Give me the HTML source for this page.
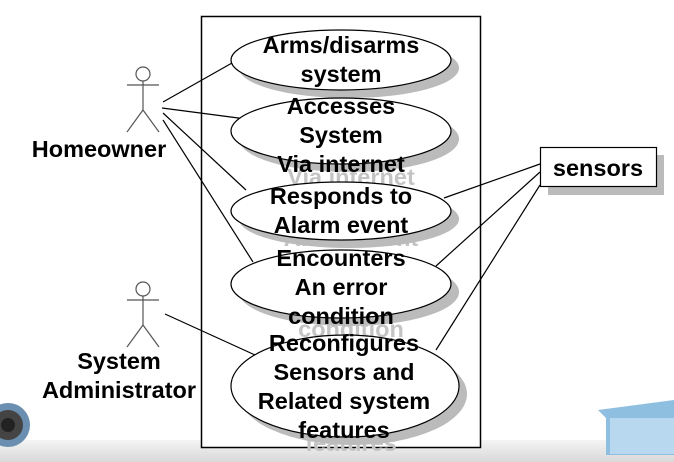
<!DOCTYPE html>
<html><head><style>
html,body{margin:0;padding:0;background:#fff;}
svg{display:block}
text{font-family:"Liberation Sans",Arial,sans-serif;font-weight:bold;font-size:23.5px;text-anchor:middle}
.s{fill:#c4c4c4}
.t{fill:#000}
</style></head><body>
<svg width="674" height="462" viewBox="0 0 674 462" xmlns="http://www.w3.org/2000/svg">
<defs>
<linearGradient id="bg" x1="0" y1="0" x2="0" y2="1">
<stop offset="0" stop-color="#f4f4f4"/><stop offset="1" stop-color="#d8d8d8"/>
</linearGradient>
</defs>
<rect x="0" y="440" width="674" height="22" fill="url(#bg)"/>
<g transform="translate(8,425)">
<circle r="22" fill="#6a8fb0"/>
<circle r="15" fill="#444"/>
<circle r="7" fill="#222"/>
</g>
<polygon points="598,410 674,400 674,455 606,455 606,418" fill="#8fbfe0"/>
<rect x="610" y="418" width="64" height="36" fill="#b7d8ef"/>
<rect x="201.5" y="16.5" width="279" height="431" fill="#fff" stroke="#000" stroke-width="1.5"/>
<g stroke="#000" stroke-width="1.2" fill="none">
<line x1="163" y1="102" x2="232" y2="63"/>
<line x1="162" y1="108" x2="246" y2="119"/>
<line x1="163" y1="113" x2="246" y2="190"/>
<line x1="163" y1="120" x2="253" y2="262"/>
<line x1="165" y1="314" x2="255" y2="355"/>
<line x1="540" y1="164" x2="444" y2="198"/>
<line x1="540" y1="172" x2="436" y2="266"/>
<line x1="540" y1="185" x2="436" y2="350"/>
</g>
<g stroke="#555" stroke-width="1.2" fill="none">
<circle cx="143" cy="74" r="7"/>
<line x1="127" y1="85" x2="159" y2="85"/>
<line x1="143" y1="81" x2="143" y2="110"/>
<line x1="143" y1="110" x2="127" y2="132"/>
<line x1="143" y1="110" x2="159" y2="132"/>
<circle cx="143" cy="289" r="7"/>
<line x1="127" y1="300" x2="159" y2="300"/>
<line x1="143" y1="296" x2="143" y2="325"/>
<line x1="143" y1="325" x2="127" y2="347"/>
<line x1="143" y1="325" x2="159" y2="347"/>
</g>
<text class="t" x="99" y="157">Homeowner</text>
<text class="t" x="119" y="369">System</text>
<text class="t" x="119" y="398">Administrator</text>

<text class="s" x="351" y="66">Arms/disarms</text><text class="s" x="351" y="95">system</text>
<text class="s" x="351" y="127">Accesses</text><text class="s" x="351" y="156">System</text><text class="s" x="351" y="185">Via internet</text>
<text class="s" x="351" y="217">Responds to</text><text class="s" x="351" y="246">Alarm event</text>
<text class="s" x="351" y="279">Encounters</text><text class="s" x="351" y="308">An error</text><text class="s" x="351" y="337">condition</text>
<text class="s" x="351" y="364">Reconfigures</text><text class="s" x="351" y="393">Sensors and</text><text class="s" x="351" y="422">Related system</text><text class="s" x="351" y="451">features</text>

<ellipse cx="349" cy="68" rx="110" ry="30" fill="#bbb"/>
<ellipse cx="341" cy="60" rx="110" ry="30" fill="#fff" stroke="#000" stroke-width="1.2"/>
<ellipse cx="349" cy="139" rx="110" ry="33" fill="#bbb"/>
<ellipse cx="341" cy="131" rx="110" ry="33" fill="#fff" stroke="#000" stroke-width="1.2"/>
<ellipse cx="349" cy="219" rx="110" ry="29" fill="#bbb"/>
<ellipse cx="341" cy="211" rx="110" ry="29" fill="#fff" stroke="#000" stroke-width="1.2"/>
<ellipse cx="349" cy="292" rx="110" ry="34" fill="#bbb"/>
<ellipse cx="341" cy="284" rx="110" ry="34" fill="#fff" stroke="#000" stroke-width="1.2"/>
<ellipse cx="353" cy="394" rx="114" ry="51" fill="#bbb"/>
<ellipse cx="345" cy="386" rx="114" ry="51" fill="#fff" stroke="#000" stroke-width="1.2"/>

<text class="t" x="341" y="53">Arms/disarms</text><text class="t" x="341" y="82">system</text>
<text class="t" x="341" y="114">Accesses</text><text class="t" x="341" y="143">System</text><text class="t" x="341" y="172">Via internet</text>
<text class="t" x="341" y="204">Responds to</text><text class="t" x="341" y="233">Alarm event</text>
<text class="t" x="341" y="266">Encounters</text><text class="t" x="341" y="295">An error</text><text class="t" x="341" y="324">condition</text>
<text class="t" x="344" y="351">Reconfigures</text><text class="t" x="344" y="380">Sensors and</text><text class="t" x="344" y="409">Related system</text><text class="t" x="344" y="438">features</text>

<rect x="548" y="155" width="116" height="40" fill="#bbb"/>
<rect x="540.5" y="147.5" width="116" height="39" fill="#fff" stroke="#000" stroke-width="1.2"/>
<text class="t" x="598" y="176">sensors</text>
</svg>
</body></html>
